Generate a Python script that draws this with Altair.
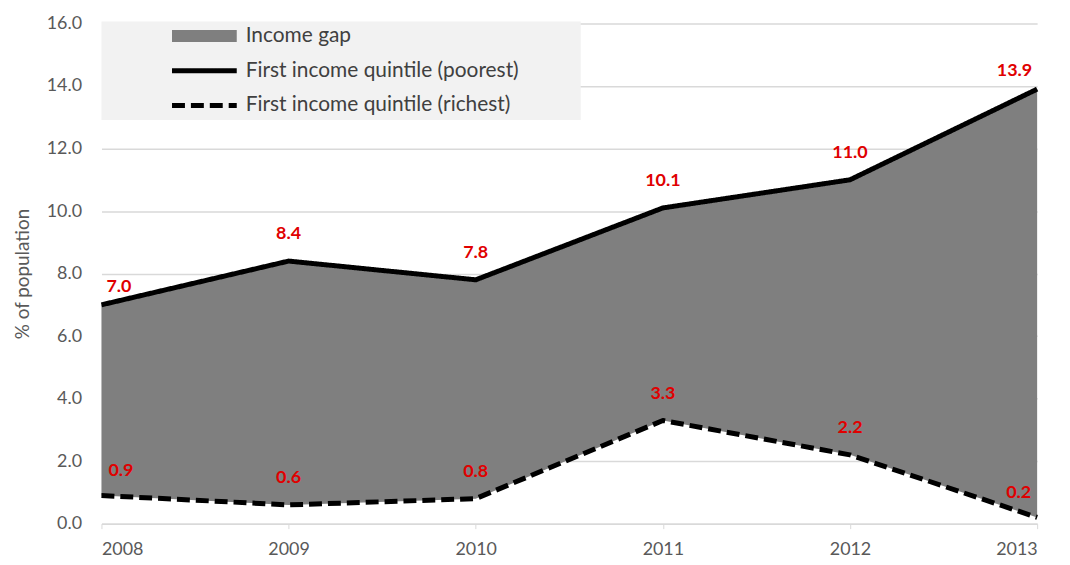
import altair as alt
import pandas as pd

years = [2008, 2009, 2010, 2011, 2012, 2013]
poorest = [7.0, 8.4, 7.8, 10.1, 11.0, 13.9]
richest = [0.9, 0.6, 0.8, 3.3, 2.2, 0.2]
series_names = ["Income gap", "First income quintile (poorest)", "First income quintile (richest)"]
y_ticks = [0, 2, 4, 6, 8, 10, 12, 14, 16]

wide = pd.DataFrame({"year": years, "poorest": poorest, "richest": richest})
long = pd.DataFrame({
    "year": years + years,
    "series": [series_names[1]] * len(years) + [series_names[2]] * len(years),
    "value": poorest + richest,
})

FONT = "Lato"
AX_COL = "#595959"

x_scale = alt.Scale(domain=[2008, 2013], nice=False, zero=False)
y_scale = alt.Scale(domain=[0, 16], nice=False)
x_axis = alt.Axis(values=years, format="d", title=None, grid=False,
                  domainColor="#d9d9d9", domainWidth=1.5, tickColor="#d9d9d9",
                  tickSize=5, labelPadding=12, labelFontSize=18, labelColor=AX_COL,
                  labelFont=FONT)
y_axis = alt.Axis(values=y_ticks, format=".1f", title="% of population",
                  grid=True, gridColor="#d9d9d9", gridWidth=1.5, domain=False, ticks=False,
                  labelPadding=20, labelFontSize=18, labelColor=AX_COL, labelFont=FONT,
                  titleFont=FONT, titleFontSize=19, titleFontWeight="normal",
                  titleColor=AX_COL, titlePadding=14)

legend = alt.Legend(title=" ", titleOrient="right", titlePadding=58,
                    orient="none", legendX=0, legendY=-2, fillColor="#f2f2f2",
                    padding=4, symbolType="M-9.3,0H9.3", symbolSize=49,
                    symbolOffset=89, labelOffset=31, labelFontSize=21,
                    labelFont=FONT, labelColor="#404040", rowPadding=-12,
                    gridAlign="all", labelLimit=500)

area = alt.Chart(wide).mark_area(color="#7f7f7f", opacity=1).encode(
    x=alt.X("year:Q", scale=x_scale, axis=x_axis),
    y=alt.Y("poorest:Q", scale=y_scale, axis=y_axis),
    y2="richest:Q",
)

lines = alt.Chart(long).mark_line(strokeCap="butt", strokeJoin="round").encode(
    x=alt.X("year:Q", scale=x_scale, axis=x_axis),
    y=alt.Y("value:Q", scale=y_scale, axis=y_axis),
    color=alt.Color("series:N", scale=alt.Scale(domain=series_names, range=["#7f7f7f", "#000000", "#000000"]), legend=legend),
    strokeDash=alt.StrokeDash("series:N", scale=alt.Scale(domain=series_names, range=[[1, 0], [1, 0], [13, 6]]), legend=legend),
    strokeWidth=alt.StrokeWidth("series:N", scale=alt.Scale(type="ordinal", domain=series_names, range=[12, 5, 5]), legend=legend),
)


def labels(flt, align, dx, dy):
    return alt.Chart(long).transform_filter(flt).mark_text(
        align=align, dx=dx, dy=dy, font=FONT, fontSize=18, fontWeight="bold", color="#e00000"
    ).encode(
        x=alt.X("year:Q", scale=x_scale),
        y=alt.Y("value:Q", scale=y_scale),
        text=alt.Text("value:Q", format=".1f"),
    )


P = "'" + series_names[1] + "'"
R = "'" + series_names[2] + "'"
lab_mid = labels("datum.year > 2008 && datum.year < 2013", "center", 0, -27)
lab_first_p = labels(f"datum.year == 2008 && datum.series == {P}", "left", 5, -18)
lab_first_r = labels(f"datum.year == 2008 && datum.series == {R}", "left", 7, -25)
lab_last_p = labels(f"datum.year == 2013 && datum.series == {P}", "right", -5, -18)
lab_last_r = labels(f"datum.year == 2013 && datum.series == {R}", "right", -6, -25)

chart = alt.layer(area, lines, lab_mid, lab_first_p, lab_first_r, lab_last_p, lab_last_r).properties(
    width=941, height=503,
    autosize=alt.AutoSizeParams(type="none"),
    padding={"left": 94, "top": 14, "right": 25, "bottom": 38},
).configure_view(stroke=None)

chart.save("out.html", embed_options={"renderer": "svg", "actions": False})
